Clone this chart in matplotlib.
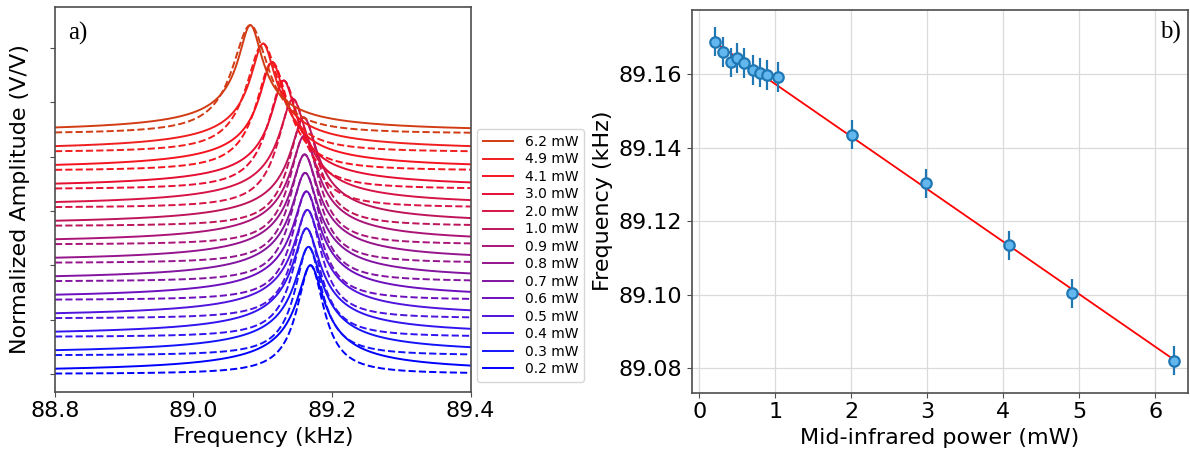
import numpy as np
import matplotlib
matplotlib.use("Agg")
import matplotlib.pyplot as plt
from matplotlib.ticker import FormatStrFormatter

# ---------------- data ----------------
# traces, ordered from lowest to highest mid-infrared power
trace_labels = ["0.2 mW", "0.3 mW", "0.4 mW", "0.5 mW", "0.6 mW", "0.7 mW", "0.8 mW",
                "0.9 mW", "1.0 mW", "2.0 mW", "3.0 mW", "4.1 mW", "4.9 mW", "6.2 mW"]
power_mw = [0.206, 0.308, 0.41, 0.49, 0.59, 0.70, 0.80, 0.895, 1.03, 2.005, 2.98, 4.07, 4.905, 6.25]
peak_freq_khz = [89.1689, 89.1660, 89.1632, 89.1644, 89.1631, 89.1612, 89.1604, 89.1598,
                 89.1593, 89.1436, 89.1303, 89.1135, 89.1004, 89.0821]
peak_err_khz = [0.0040, 0.0040, 0.0040, 0.0040, 0.0040, 0.0040, 0.0040, 0.0040,
                0.0040, 0.0040, 0.0040, 0.0040, 0.0040, 0.0040]
fit_width_khz = [0.024, 0.024, 0.025, 0.025, 0.025, 0.026, 0.026, 0.026,
                 0.026, 0.027, 0.028, 0.029, 0.030, 0.032]
meas_width_khz = [0.018, 0.018, 0.018, 0.018, 0.018, 0.018, 0.018, 0.018,
                  0.018, 0.018, 0.017, 0.017, 0.017, 0.0165]
trace_step = 0.17  # vertical offset between consecutive traces (normalized units)

trace_colors = ["#0000ff", "#1414fa", "#3214f0", "#5014dc", "#6e0fbe", "#8214a0", "#96148c",
                "#aa1478", "#be145a", "#d71446", "#e60f32", "#f5141e", "#f01e1e", "#d23c14"]

# ---------------- figure ----------------
fig = plt.figure(figsize=(11.9, 4.53), dpi=100)
axa = fig.add_axes([0.0462, 0.1353, 0.3492, 0.8486])
axb = fig.add_axes([0.5813, 0.1331, 0.4170, 0.8459])

spine_col = "#4d4d4d"
for ax in (axa, axb):
    for s in ax.spines.values():
        s.set_color(spine_col)
        s.set_linewidth(1.2)
    ax.tick_params(labelsize=16, color=spine_col)

# ---- panel a ----
f = np.linspace(88.8, 89.4, 1500)
handles = []
for i in range(len(trace_labels)):
    off = i * trace_step
    f0 = peak_freq_khz[i]
    fit = off + 1.0 / (1.0 + ((f - f0) / fit_width_khz[i]) ** 2)
    meas = off + 1.0 / np.sqrt(1.0 + ((f - f0) / meas_width_khz[i]) ** 2)
    h, = axa.plot(f, meas, color=trace_colors[i], lw=1.4, label=trace_labels[i])
    axa.plot(f, fit, "--", color=trace_colors[i], lw=1.4)
    handles.append(h)

axa.set_xlim(88.8, 89.4)
axa.set_ylim(-0.163, 3.374)
axa.set_xticks([88.8, 89.0, 89.2, 89.4])
axa.xaxis.set_major_formatter(FormatStrFormatter("%.1f"))
axa.set_yticks(np.arange(0, 3.01, 0.5))
axa.set_yticklabels([])
axa.set_xlabel("Frequency (kHz)", fontsize=16)
axa.set_ylabel("Normalized Amplitude (V/V)", fontsize=16)
axa.yaxis.set_label_coords(-0.06, 0.5)
axa.text(0.031, 0.933, "a)", transform=axa.transAxes, fontsize=18,
         family="Liberation Serif", ha="left", va="center")

fig.legend(handles[::-1], [h.get_label() for h in handles[::-1]],
           loc="lower left", bbox_to_anchor=(477.3 / 1190, (453 - 381.7) / 453),
           borderaxespad=0, fontsize=10, labelspacing=0.25, handlelength=2.2,
           frameon=True, edgecolor="#cccccc", fancybox=True)

# ---- panel b ----
p = np.array(power_mw)
fr = np.array(peak_freq_khz)
slope, inter = np.polyfit(p, fr, 1)
xs = np.array([p.min(), p.max()])
axb.plot(xs, slope * xs + inter, color="red", lw=1.3, zorder=2)
axb.errorbar(p, fr, yerr=peak_err_khz, fmt="o", color="#1f77b4", mfc="#62b8ee",
             mec="#1f77b4", ms=7.5, mew=1.6, elinewidth=1.6, capsize=0, zorder=3)
axb.set_xlim(-0.1, 6.43)
axb.set_ylim(89.0734, 89.1776)
axb.set_xticks(range(0, 7))
axb.set_yticks([89.08, 89.10, 89.12, 89.14, 89.16])
axb.yaxis.set_major_formatter(FormatStrFormatter("%.2f"))
axb.grid(True, color="#dadada", lw=0.9)
axb.set_axisbelow(True)
axb.set_xlabel("Mid-infrared power (mW)", fontsize=16)
axb.set_ylabel("Frequency (kHz)", fontsize=16)
axb.text(0.986, 0.941, "b)", transform=axb.transAxes, fontsize=18,
         family="Liberation Serif", ha="right", va="center")

fig.savefig("out.png", dpi=100)
